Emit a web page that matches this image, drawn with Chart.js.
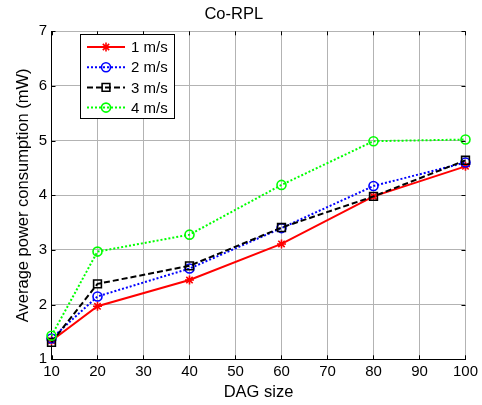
<!DOCTYPE html>
<html>
<head>
<meta charset="utf-8">
<script src="https://cdn.jsdelivr.net/npm/chart.js@4.4.0/dist/chart.umd.min.js"></script>
<style>
html,body{margin:0;padding:0;background:#fff;}
#wrap{width:482px;height:405px;}
</style>
</head>
<body>
<div id="wrap"><canvas id="c" width="482" height="405"></canvas></div>
<script>
const dagSize = [10, 20, 40, 60, 80, 100];
const speed1 = [1.34, 1.97, 2.45, 3.11, 3.98, 4.53];
const speed2 = [1.38, 2.15, 2.66, 3.40, 4.17, 4.60];
const speed3 = [1.31, 2.38, 2.71, 3.41, 3.98, 4.64];
const speed4 = [1.43, 2.97, 3.28, 4.19, 4.99, 5.02];
const seriesLabels = ['1 m/s', '2 m/s', '3 m/s', '4 m/s'];
const xTicks = [10, 20, 30, 40, 50, 60, 70, 80, 90, 100];
const yTicks = [1, 2, 3, 4, 5, 6, 7];
const chartTitle = 'Co-RPL';
const xTitle = 'DAG size';
const yTitle = 'Average power consumption (mW)';

const FONT = 'Liberation Sans, Arial, Helvetica, sans-serif';
const toXY = arr => arr.map((v, i) => ({x: dagSize[i], y: v}));

const styles = [
  {color: '#ff0000', dash: [], point: 'star', r: 4.5, order: 4},
  {color: '#0000ff', dash: [2, 2], point: 'circle', r: 4.5, order: 3},
  {color: '#000000', dash: [6, 3], point: 'rect', r: 5.5, order: 2},
  {color: '#00ff00', dash: [2, 2], point: 'circle', r: 4.5, order: 1}
];
const seriesData = [speed1, speed2, speed3, speed4];

const datasets = seriesData.map((d, i) => ({
  label: seriesLabels[i],
  data: toXY(d),
  borderColor: styles[i].color,
  backgroundColor: 'rgba(0,0,0,0)',
  borderWidth: 2,
  borderDash: styles[i].dash,
  pointStyle: styles[i].point,
  pointRadius: styles[i].r,
  pointBorderWidth: 1.6,
  pointBorderColor: styles[i].color,
  pointBackgroundColor: 'rgba(0,0,0,0)',
  tension: 0,
  clip: false,
  order: styles[i].order
}));

const frameTicks = {
  id: 'frameTicks',
  afterDatasetsDraw(chart) {
    const {ctx, chartArea: a, scales: {x, y}} = chart;
    ctx.save();
    ctx.strokeStyle = '#000';
    ctx.lineWidth = 1;
    ctx.beginPath();
    xTicks.forEach(t => {
      const px = Math.round(x.getPixelForValue(t)) + 0.5;
      ctx.moveTo(px, a.bottom); ctx.lineTo(px, a.bottom - 4);
      ctx.moveTo(px, a.top); ctx.lineTo(px, a.top + 4);
    });
    yTicks.forEach(t => {
      const py = Math.round(y.getPixelForValue(t)) + 0.5;
      ctx.moveTo(a.left, py); ctx.lineTo(a.left + 4, py);
      ctx.moveTo(a.right, py); ctx.lineTo(a.right - 4, py);
    });
    ctx.stroke();
    ctx.restore();
  }
};

const boxLegend = {
  id: 'boxLegend',
  afterDraw(chart) {
    const {ctx} = chart;
    const bx = 80.5, by = 34.5, bw = 94, bh = 84;
    ctx.save();
    ctx.fillStyle = '#fff';
    ctx.fillRect(bx, by, bw, bh);
    ctx.strokeStyle = '#000';
    ctx.lineWidth = 1;
    ctx.setLineDash([]);
    ctx.strokeRect(bx, by, bw, bh);
    chart.data.datasets.forEach((ds, i) => {
      const cy = 47 + i * 20.2;
      ctx.save();
      ctx.strokeStyle = ds.borderColor;
      ctx.lineWidth = ds.borderWidth;
      ctx.setLineDash(ds.borderDash);
      ctx.beginPath();
      ctx.moveTo(87, cy); ctx.lineTo(125, cy);
      ctx.stroke();
      ctx.setLineDash([]);
      ctx.fillStyle = 'rgba(0,0,0,0)';
      ctx.strokeStyle = ds.pointBorderColor;
      ctx.lineWidth = ds.pointBorderWidth;
      Chart.helpers.drawPoint(ctx, {
        pointStyle: ds.pointStyle,
        rotation: 0,
        radius: ds.pointRadius,
        borderWidth: ds.pointBorderWidth
      }, 106, cy);
      ctx.restore();
      ctx.fillStyle = '#000';
      ctx.font = '15px ' + FONT;
      ctx.textBaseline = 'middle';
      ctx.textAlign = 'left';
      ctx.fillText(ds.label, 131, cy + 1);
    });
    ctx.restore();
  }
};

new Chart(document.getElementById('c'), {
  type: 'line',
  data: {datasets},
  options: {
    responsive: false,
    animation: false,
    events: [],
    layout: {padding: {left: 0, right: 14.5, top: 0, bottom: 0}},
    plugins: {
      legend: {display: false},
      tooltip: {enabled: false},
      title: {
        display: true,
        text: chartTitle,
        color: '#000',
        font: {family: FONT, size: 16.5, weight: 'normal'},
        padding: {top: 4.3, bottom: 7.2}
      }
    },
    scales: {
      x: {
        type: 'linear',
        min: 10, max: 100,
        afterBuildTicks: s => { s.ticks = xTicks.map(v => ({value: v})); },
        afterFit: s => { s.height = 45.7; },
        grid: {color: '#b3b3b3', lineWidth: 1, drawTicks: false},
        border: {display: true, color: '#000', width: 1},
        ticks: {color: '#000', padding: 4, font: {family: FONT, size: 15}, maxRotation: 0},
        title: {display: true, text: xTitle, color: '#000', font: {family: FONT, size: 16.5}, padding: {top: 0, bottom: 2.6}}
      },
      y: {
        type: 'linear',
        min: 1, max: 7,
        afterBuildTicks: s => { s.ticks = yTicks.map(v => ({value: v})); },
        afterFit: s => { s.width = 51.5; },
        grid: {color: '#b3b3b3', lineWidth: 1, drawTicks: false},
        border: {display: true, color: '#000', width: 1},
        ticks: {color: '#000', padding: 4.5, font: {family: FONT, size: 15}},
        title: {display: true, text: yTitle, color: '#000', font: {family: FONT, size: 16.5}, padding: {top: 13.6, bottom: 0}}
      }
    }
  },
  plugins: [frameTicks, boxLegend]
});
</script>
</body>
</html>
